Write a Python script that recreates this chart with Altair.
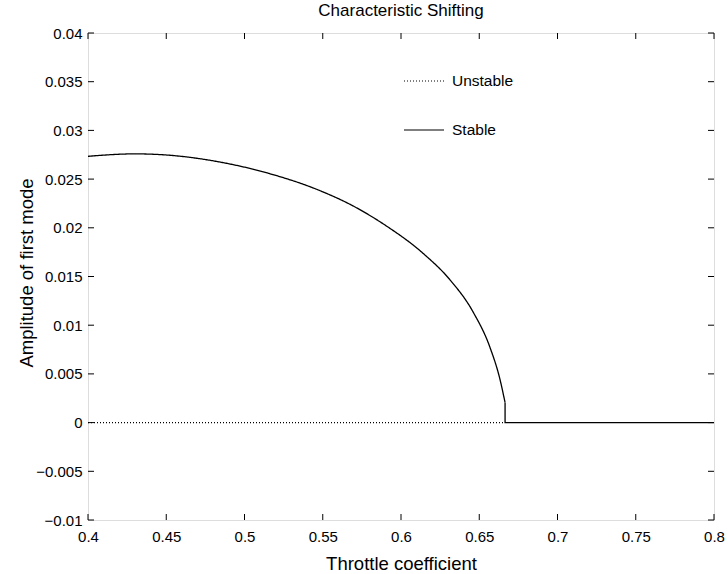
import altair as alt
import pandas as pd

# Stable branch: curved part
curve_x = [0.4000, 0.4300, 0.4513, 0.4833, 0.5152, 0.5472, 0.5685,
           0.5898, 0.6143, 0.6313, 0.6462, 0.6569, 0.6633, 0.6665]
curve_y = [0.02734, 0.02759, 0.02746, 0.02678, 0.02560, 0.02388, 0.02232,
           0.02028, 0.01735, 0.01466, 0.01132, 0.00770, 0.00440, 0.00205]
# Stable branch: drop to zero and along zero to the right edge
flat_x = [0.6665, 0.6665, 0.8000]
flat_y = [0.00205, 0.0, 0.0]
# Unstable branch (zero solution)
unstable_x = [0.4000, 0.6665]
unstable_y = [0.0, 0.0]

x_ticks = [0.4, 0.45, 0.5, 0.55, 0.6, 0.65, 0.7, 0.75, 0.8]
y_ticks = [-0.01, -0.005, 0.0, 0.005, 0.01, 0.015, 0.02, 0.025, 0.03, 0.035, 0.04]


def table(series, xs, ys):
    return pd.DataFrame({"x": xs, "y": ys, "series": series,
                         "order": list(range(len(xs)))})


curve_df = table("Stable", curve_x, curve_y)
straight_df = pd.concat([table("Unstable", unstable_x, unstable_y),
                         table("Stable", flat_x, flat_y)], ignore_index=True)
xt = pd.DataFrame({"t": x_ticks})
yt = pd.DataFrame({"t": y_ticks})

FONT = "Liberation Sans"
TICK_FS = 15
TITLE_FS = 18.5
W, H = 626, 487
TL = 6  # inward tick length

xscale = alt.Scale(domain=[0.4, 0.8], nice=False, zero=False)
yscale = alt.Scale(domain=[-0.01, 0.04], nice=False, zero=False)
dash_scale = alt.Scale(domain=["Unstable", "Stable"], range=[[1, 2], [1, 0]])

common_axis = dict(domain=False, ticks=False, tickSize=0, grid=False,
                   labelFont=FONT, labelFontSize=TICK_FS, labelColor="black",
                   titleFont=FONT, titleFontSize=TITLE_FS, titleColor="black",
                   titleFontWeight="normal", labelFlush=False)

x_enc = alt.X("x:Q", scale=xscale,
              axis=alt.Axis(values=x_ticks, format="~g", title="Throttle coefficient",
                            orient="bottom", labelPadding=9,
                            titleX=W / 2, titleY=43, titleBaseline="middle",
                            **common_axis))
y_enc = alt.Y("y:Q", scale=yscale,
              axis=alt.Axis(values=y_ticks, format="~g", title="Amplitude of first mode",
                            orient="left", labelPadding=6,
                            titleX=-62, titleY=H / 2 - 4, titleBaseline="middle",
                            titleAngle=270, titleAlign="center",
                            **common_axis))

straight = alt.Chart(straight_df).mark_line(color="black", strokeWidth=1.3).encode(
    x=x_enc, y=y_enc,
    strokeDash=alt.StrokeDash(
        "series:N", scale=dash_scale,
        legend=alt.Legend(title=None, orient="none", legendX=315, legendY=27,
                          symbolType="stroke", symbolSize=1600,
                          symbolStrokeColor="black", symbolStrokeWidth=1.2,
                          labelFont=FONT, labelFontSize=15.5, labelColor="black",
                          labelOffset=7, rowPadding=19),
    ),
    order=alt.Order("order:Q"),
)

curve = alt.Chart(curve_df).mark_line(color="black", strokeWidth=1.3,
                                      interpolate="monotone").encode(
    x=alt.X("x:Q", scale=xscale),
    y=alt.Y("y:Q", scale=yscale),
    strokeDash=alt.StrokeDash("series:N", scale=dash_scale),
    order=alt.Order("order:Q"),
)

tick_style = dict(color="black", strokeWidth=1)
bottom_ticks = alt.Chart(xt).mark_rule(**tick_style).encode(
    x=alt.X("t:Q", scale=xscale), y=alt.value(H), y2=alt.value(H - TL))
top_ticks = alt.Chart(xt).mark_rule(**tick_style).encode(
    x=alt.X("t:Q", scale=xscale), y=alt.value(0), y2=alt.value(TL))
left_ticks = alt.Chart(yt).mark_rule(**tick_style).encode(
    y=alt.Y("t:Q", scale=yscale), x=alt.value(0), x2=alt.value(TL))
right_ticks = alt.Chart(yt).mark_rule(**tick_style).encode(
    y=alt.Y("t:Q", scale=yscale), x=alt.value(W), x2=alt.value(W - TL))

chart = alt.layer(straight, curve, bottom_ticks, top_ticks, left_ticks,
                  right_ticks).properties(
    width=W,
    height=H,
    padding={"left": 88, "top": 33, "right": 14, "bottom": 54},
    autosize=alt.AutoSizeParams(type="none"),
    title=alt.Title("Characteristic Shifting", font=FONT, fontSize=17,
                    fontWeight="normal", color="black", anchor="middle", offset=6),
).configure_view(stroke="black", strokeWidth=1).configure(background="white")

chart.save("out.html", embed_options={"renderer": "svg", "actions": False})
